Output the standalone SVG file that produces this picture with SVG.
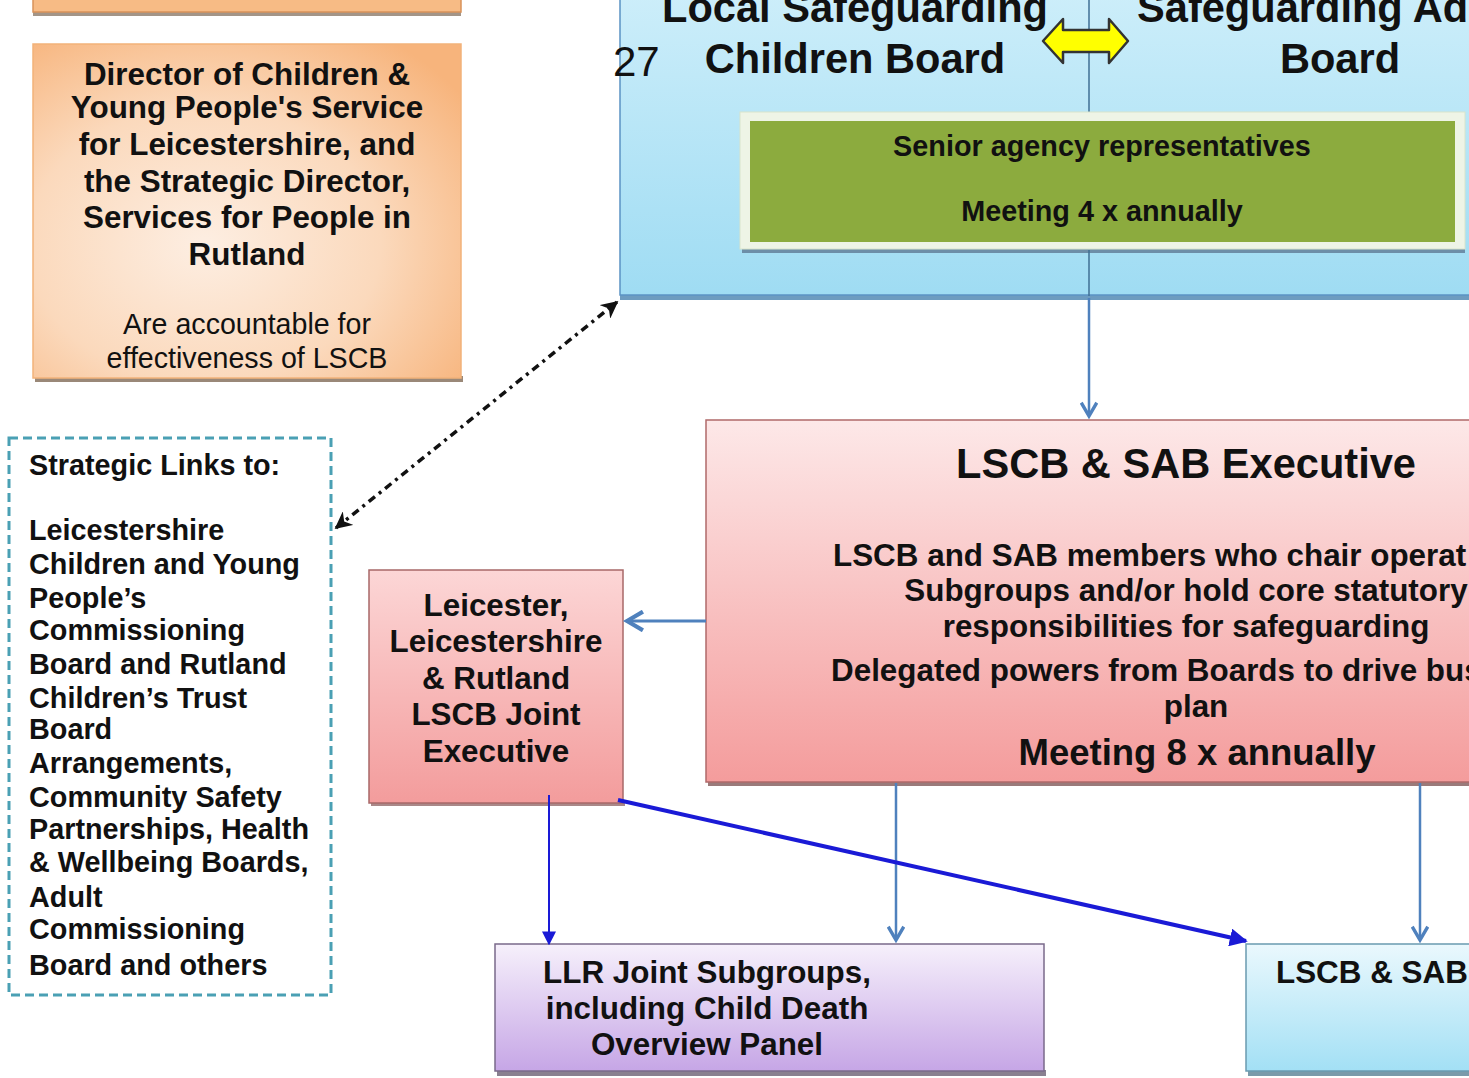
<svg xmlns="http://www.w3.org/2000/svg" width="1469" height="1078" viewBox="0 0 1469 1078">
<defs>
<style>
text{font-family:"Liberation Sans",Arial,sans-serif;fill:#111;}
.b{font-weight:bold;}
.c{text-anchor:middle;}
.t31{font-size:31.4px;}
.t29{font-size:28.8px;}
.t42{font-size:41.6px;}
.box{stroke-width:1.5;}
.sb{stroke:#4f81bd;stroke-width:2.5;fill:none;}
.bl{stroke:#1a1ad6;fill:none;}
</style>
<radialGradient id="gOr" cx="0.4" cy="0.6" r="0.75">
<stop offset="0" stop-color="#fdeee2"/><stop offset="0.55" stop-color="#fbd9bc"/><stop offset="1" stop-color="#f7b47c"/>
</radialGradient>
<linearGradient id="gBlue" x1="0" y1="0" x2="0" y2="1">
<stop offset="0" stop-color="#cdeefa"/><stop offset="1" stop-color="#9fdcf3"/>
</linearGradient>
<linearGradient id="gPink" x1="0" y1="0" x2="0" y2="1">
<stop offset="0" stop-color="#fde8e8"/><stop offset="1" stop-color="#f49c9c"/>
</linearGradient>
<linearGradient id="gPink2" x1="0" y1="0" x2="0" y2="1">
<stop offset="0" stop-color="#fcd6d6"/><stop offset="1" stop-color="#f39c9c"/>
</linearGradient>
<linearGradient id="gPurp" x1="0" y1="0" x2="0" y2="1">
<stop offset="0" stop-color="#f6f0fb"/><stop offset="1" stop-color="#c6a6e6"/>
</linearGradient>
<linearGradient id="gCyan" x1="0" y1="0" x2="0" y2="1">
<stop offset="0" stop-color="#eaf8fd"/><stop offset="1" stop-color="#a3e0f5"/>
</linearGradient>
<marker id="chev" viewBox="0 0 12 12" refX="10" refY="6" markerWidth="7.5" markerHeight="7.5" orient="auto" markerUnits="strokeWidth">
<path d="M1.5,1 L10,6 L1.5,11" fill="none" stroke="#4f81bd" stroke-width="2.2"/>
</marker>
<marker id="tri" viewBox="0 0 10 10" refX="9" refY="5" markerWidth="7" markerHeight="7" orient="auto" markerUnits="strokeWidth">
<path d="M0,0 L10,5 L0,10 z" fill="#1a1ad6"/>
</marker>
<marker id="tri2" viewBox="0 0 10 10" refX="9" refY="5" markerWidth="4.5" markerHeight="4.5" orient="auto" markerUnits="strokeWidth">
<path d="M0,0 L10,5 L0,10 z" fill="#1a1ad6"/>
</marker>
<marker id="blk" viewBox="0 0 10 10" refX="9" refY="5" markerWidth="5" markerHeight="5" orient="auto-start-reverse" markerUnits="strokeWidth">
<path d="M0,0 L10,5 L0,10 L3,5 z" fill="#111"/>
</marker>
</defs>
<rect width="1469" height="1078" fill="#ffffff"/>

<g id="top-orange">
<rect x="33" y="10" width="428" height="6" fill="#8c7a6a" opacity="0.8"/>
<rect x="33" y="-20" width="428" height="32" fill="#f7bb85" stroke="#d9925a" class="box"/>
</g>

<g id="director">
<rect x="35" y="376" width="428" height="6" fill="#9a8878"/>
<rect x="33" y="44" width="428" height="334" fill="url(#gOr)" stroke="#f2b27a" class="box"/>
<text class="b c t31" x="247" y="85">Director of Children &amp;</text>
<text class="b c t31" x="247" y="118">Young People's Service</text>
<text class="b c t31" x="247" y="155">for Leicestershire, and</text>
<text class="b c t31" x="247" y="192">the Strategic Director,</text>
<text class="b c t31" x="247" y="228">Services for People in</text>
<text class="b c t31" x="247" y="265">Rutland</text>
<text class="c" x="247" y="334" style="font-size:28.6px">Are accountable for</text>
<text class="c" x="247" y="368" style="font-size:28.6px">effectiveness of LSCB</text>
</g>

<g id="boards">
<rect x="620" y="294" width="860" height="6" fill="#6d9cc0"/>
<rect x="620" y="-10" width="860" height="305" fill="url(#gBlue)" stroke="#5b93c4" class="box"/>
<line x1="1089" y1="-10" x2="1089" y2="112" stroke="#3f6f95" stroke-width="1.5"/>
<text class="b c t42" x="855" y="22">Local Safeguarding</text>
<text class="b c t42" x="855" y="73">Children Board</text>
<text class="b t42" x="1137" y="22">Safeguarding Ad</text>
<text class="b c t42" x="1340" y="73">Board</text>
<path d="M1043,41 L1063,19 L1063,30 L1109,30 L1109,19 L1128,41 L1109,63 L1109,52 L1063,52 L1063,63 Z" fill="#ffff00" stroke="#333" stroke-width="2.5" stroke-linejoin="round"/>
<text x="613" y="76" style="font-size:42px">27</text>
</g>

<g id="senior">
<rect x="742" y="247" width="723" height="6" fill="#6d8ea8"/>
<rect x="740" y="112" width="725" height="137" fill="#eef4e6" stroke="#d8e4cc" stroke-width="1"/>
<rect x="750" y="121" width="705" height="121" fill="#8cab3e"/>
<text class="b c t29" x="1102" y="156">Senior agency representatives</text>
<text class="b c t29" x="1102" y="221">Meeting 4 x annually</text>
</g>

<g id="executive">
<rect x="708" y="780" width="780" height="6" fill="#9a7a7a"/>
<rect x="706" y="420" width="800" height="362" fill="url(#gPink)" stroke="#b06a6a" class="box"/>
<text class="b c t42" x="1186" y="478">LSCB &amp; SAB Executive</text>
<text class="b t31" x="833" y="566">LSCB and SAB members who chair operat</text>
<text class="b c t31" x="1186" y="601">Subgroups and/or hold core statutory</text>
<text class="b c t31" x="1186" y="637">responsibilities for safeguarding</text>
<text class="b t31" x="831" y="681">Delegated powers from Boards to drive bus</text>
<text class="b c t31" x="1196" y="717">plan</text>
<text class="b c" x="1197" y="765" style="font-size:36.5px">Meeting 8 x annually</text>
</g>

<g id="llr-exec">
<rect x="371" y="801" width="254" height="5" fill="#a88"/>
<rect x="369" y="570" width="254" height="233" fill="url(#gPink2)" stroke="#a86868" class="box"/>
<text class="b c t31" x="496" y="616">Leicester,</text>
<text class="b c t31" x="496" y="652">Leicestershire</text>
<text class="b c t31" x="496" y="689">&amp; Rutland</text>
<text class="b c t31" x="496" y="725">LSCB Joint</text>
<text class="b c t31" x="496" y="762">Executive</text>
</g>

<g id="strategic">
<rect x="9" y="438" width="322" height="557" fill="#ffffff" stroke="#4aa0b4" stroke-width="3" stroke-dasharray="9 5"/>
<text class="b t29" x="29" y="475">Strategic Links to:</text>
<text class="b t29" x="29" y="540">Leicestershire</text>
<text class="b t29" x="29" y="574">Children and Young</text>
<text class="b t29" x="29" y="608">People’s</text>
<text class="b t29" x="29" y="640">Commissioning</text>
<text class="b t29" x="29" y="674">Board and Rutland</text>
<text class="b t29" x="29" y="708">Children’s Trust</text>
<text class="b t29" x="29" y="739">Board</text>
<text class="b t29" x="29" y="773">Arrangements,</text>
<text class="b t29" x="29" y="807">Community Safety</text>
<text class="b t29" x="29" y="839">Partnerships, Health</text>
<text class="b t29" x="29" y="872">&amp; Wellbeing Boards,</text>
<text class="b t29" x="29" y="907">Adult</text>
<text class="b t29" x="29" y="939">Commissioning</text>
<text class="b t29" x="29" y="975">Board and others</text>
</g>

<g id="llr-subgroups">
<rect x="497" y="1070" width="549" height="6" fill="#8a8090"/>
<rect x="495" y="944" width="549" height="127" fill="url(#gPurp)" stroke="#7a6a8a" class="box"/>
<text class="b c t31" x="707" y="983">LLR Joint Subgroups,</text>
<text class="b c t31" x="707" y="1019">including Child Death</text>
<text class="b c t31" x="707" y="1055">Overview Panel</text>
</g>

<g id="lscb-sab-sub">
<rect x="1248" y="1070" width="240" height="6" fill="#7a9aaa"/>
<rect x="1246" y="944" width="260" height="127" fill="url(#gCyan)" stroke="#6a9ab0" class="box"/>
<text class="b t31" x="1276" y="983">LSCB &amp; SAB</text>
</g>

<g id="connectors">
<line x1="1089" y1="250" x2="1089" y2="296" stroke="#3f6f95" stroke-width="1.5"/>
<line class="sb" x1="1089" y1="298" x2="1089" y2="416" marker-end="url(#chev)"/>
<line class="sb" style="stroke-width:3" x1="706" y1="621" x2="627" y2="621" marker-end="url(#chev)"/>
<line class="sb" x1="896" y1="783" x2="896" y2="940" marker-end="url(#chev)"/>
<line class="sb" x1="1420" y1="783" x2="1420" y2="940" marker-end="url(#chev)"/>
<line class="bl" stroke-width="2" x1="549" y1="795" x2="549" y2="944" marker-end="url(#tri)"/>
<line class="bl" stroke-width="4" x1="618" y1="800" x2="1246" y2="941" marker-end="url(#tri2)"/>
<line x1="336" y1="528" x2="617" y2="302" stroke="#111" stroke-width="3.5" stroke-dasharray="8 5 3 5" marker-start="url(#blk)" marker-end="url(#blk)"/>
</g>
</svg>
